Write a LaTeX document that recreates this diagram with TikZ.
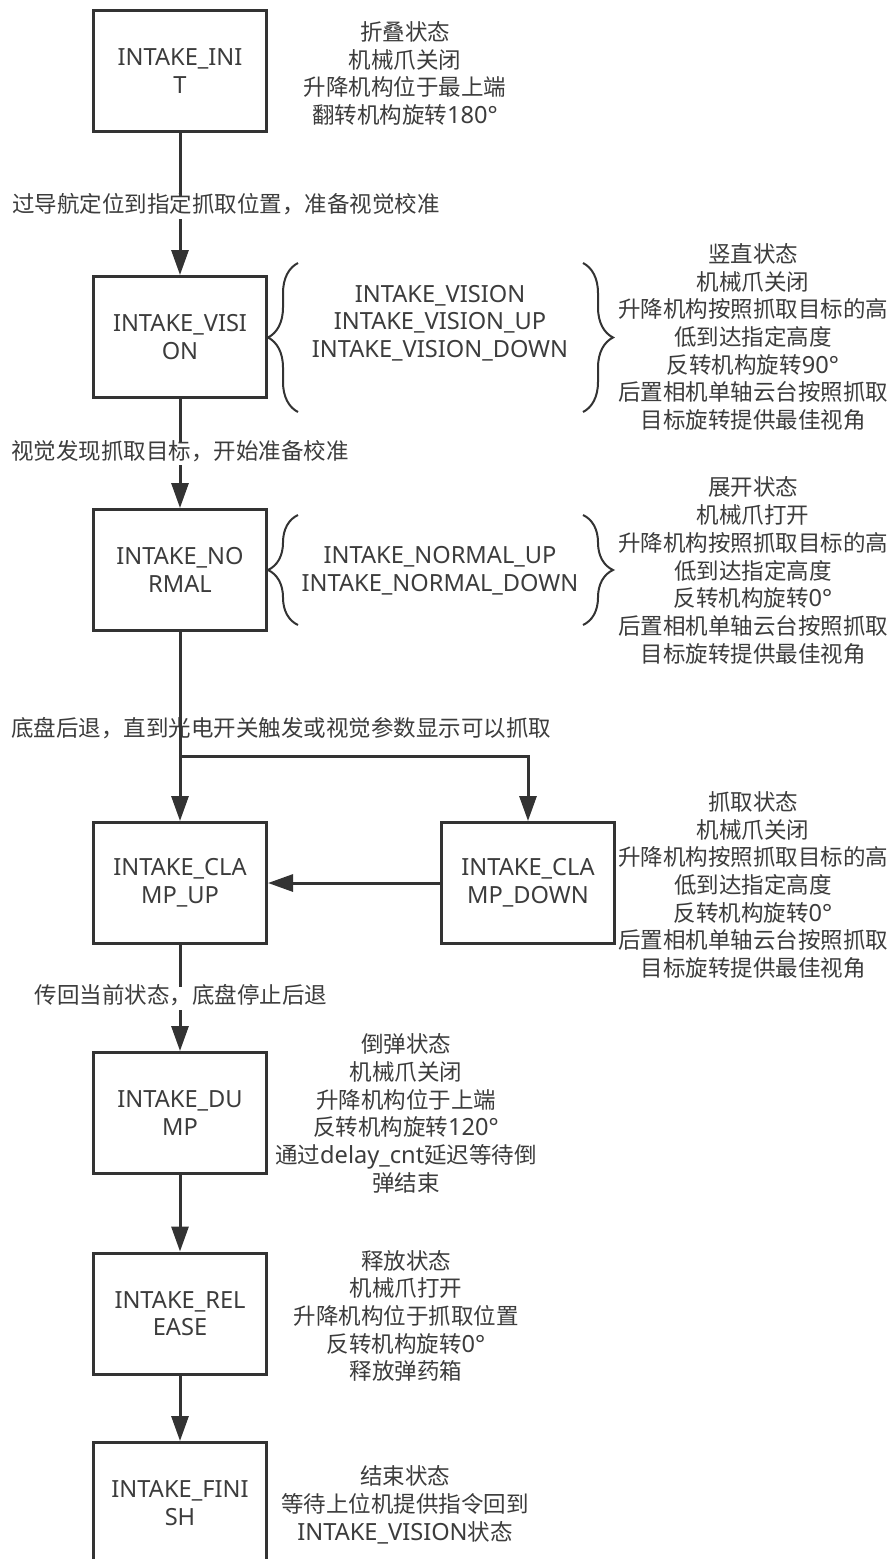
\documentclass[tikz,border=0pt]{standalone}
\usepackage{fontspec}
\setmainfont{Noto Sans}[Scale=1.05]
\newfontfamily\cjk{Noto Sans CJK SC}
\newcommand{\zh}[1]{{\cjk #1}}
\usetikzlibrary{arrows.meta,decorations.pathreplacing}
\definecolor{ink}{HTML}{333333}
\definecolor{txt}{HTML}{3C3C3C}
\tikzset{
  every node/.style={font=\fontsize{22.5}{27.7}\selectfont, text=txt, align=center},
  state/.style={draw=ink, line width=3pt, minimum width=173pt, minimum height=121pt, inner sep=0pt},
  flow/.style={draw=ink, line width=3pt, -{Triangle[length=25pt,width=17pt]}},
  edgelabel/.style={fill=white, inner xsep=2pt, inner ysep=2pt, text height=15pt, text depth=4pt},
  curly/.style={draw=ink, line width=2pt, decorate, decoration={brace, amplitude=30pt}},
  notes/.style={inner sep=0pt}
}
\begin{document}
\begin{tikzpicture}[x=1pt, y=-1pt]
\useasboundingbox (0,0) rectangle (891,1559);
\clip (0,0) rectangle (891,1559);
\fill[white] (0,0) rectangle (891,1559);

% states
\node[state] (init)      at (180,71)     {INTAKE\_INI\\T};
\node[state] (vision)    at (180,337)    {INTAKE\_VISI\\ON};
\node[state] (normal)    at (180,570)    {INTAKE\_NO\\RMAL};
\node[state] (clampup)   at (180,883)    {INTAKE\_CLA\\MP\_UP};
\node[state] (clampdown) at (528,883)    {INTAKE\_CLA\\MP\_DOWN};
\node[state] (dump)      at (180,1113)   {INTAKE\_DU\\MP};
\node[state] (release)   at (180,1313.5) {INTAKE\_REL\\EASE};
\node[state] (finish)    at (180,1503)   {INTAKE\_FINI\\SH};

% sub-states grouped by braces
\node[notes] (visionsub) at (440,323) {INTAKE\_VISION\\INTAKE\_VISION\_UP\\INTAKE\_VISION\_DOWN};
\node[notes] (normalsub) at (440,571) {INTAKE\_NORMAL\_UP\\INTAKE\_NORMAL\_DOWN};
\draw[curly] (298,412) -- (298,263);
\draw[curly] (583,263) -- (583,412);
\draw[curly] (298,625) -- (298,515);
\draw[curly] (583,515) -- (583,625);

% state descriptions
\node[notes] (initnote) at (405,73.5) {\zh{折叠状态}\\\zh{机械爪关闭}\\\zh{升降机构位于最上端}\\\zh{翻转机构旋转}180°};
\node[notes] (visionnote) at (753,337) {\zh{竖直状态}\\\zh{机械爪关闭}\\\zh{升降机构按照抓取目标的高}\\\zh{低到达指定高度}\\\zh{反转机构旋转}90°\\\zh{后置相机单轴云台按照抓取}\\\zh{目标旋转提供最佳视角}};
\node[notes] (normalnote) at (753,570.5) {\zh{展开状态}\\\zh{机械爪打开}\\\zh{升降机构按照抓取目标的高}\\\zh{低到达指定高度}\\\zh{反转机构旋转}0°\\\zh{后置相机单轴云台按照抓取}\\\zh{目标旋转提供最佳视角}};
\node[notes] (clampnote) at (753,885) {\zh{抓取状态}\\\zh{机械爪关闭}\\\zh{升降机构按照抓取目标的高}\\\zh{低到达指定高度}\\\zh{反转机构旋转}0°\\\zh{后置相机单轴云台按照抓取}\\\zh{目标旋转提供最佳视角}};
\node[notes] (dumpnote) at (406,1113.5) {\zh{倒弹状态}\\\zh{机械爪关闭}\\\zh{升降机构位于上端}\\\zh{反转机构旋转}120°\\\zh{通过}delay\_cnt\zh{延迟等待倒}\\\zh{弹结束}};
\node[notes] (releasenote) at (406,1316) {\zh{释放状态}\\\zh{机械爪打开}\\\zh{升降机构位于抓取位置}\\\zh{反转机构旋转}0°\\\zh{释放弹药箱}};
\node[notes] (finishnote) at (405,1505) {\zh{结束状态}\\\zh{等待上位机提供指令回到}\\INTAKE\_VISION\zh{状态}};

% transitions
\coordinate (split) at (180,756);
\node[inner sep=1pt, anchor=west] (l3) at (10,728) {\zh{底盘后退，直到光电开关触发或视觉参数显示可以抓取}};
\draw[flow] (init) -- (vision);
\draw[flow] (vision) -- (normal);
\draw[flow] (normal) -- (clampup);
\draw[flow] (split) -| (clampdown);
\draw[flow] (clampdown) -- (clampup);
\draw[flow] (clampup) -- (dump);
\draw[flow] (dump) -- (release);
\draw[flow] (release) -- (finish);

\node[edgelabel, anchor=west] (l1) at (10,207) {\zh{过导航定位到指定抓取位置，准备视觉校准}};
\node[edgelabel] (l2) at (180,453.5) {\zh{视觉发现抓取目标，开始准备校准}};
\node[edgelabel] (l4) at (181,998) {\zh{传回当前状态，底盘停止后退}};
\end{tikzpicture}
\end{document}
